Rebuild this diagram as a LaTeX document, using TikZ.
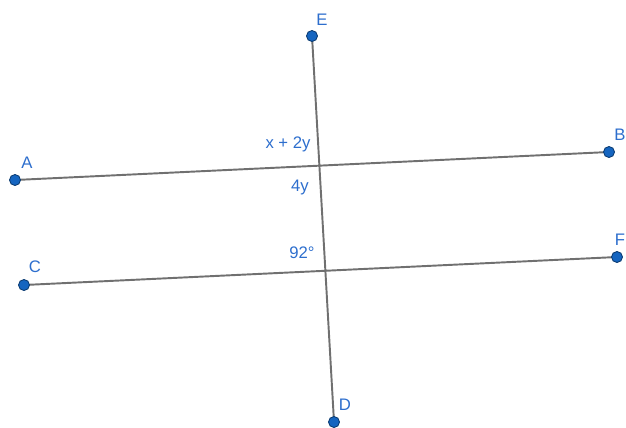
\documentclass[tikz,border=0pt]{standalone}
\usepackage{fontspec}
\setmainfont{Liberation Sans}
\definecolor{ptblue}{RGB}{21,101,192}
\definecolor{lblblue}{RGB}{45,110,205}
\definecolor{lngray}{RGB}{112,112,112}
\begin{document}
\begin{tikzpicture}[x=0.02cm,y=-0.02cm,
lbl/.style={text=lblblue,font=\fontsize{9.5}{11}\selectfont,inner sep=0pt},
seg/.style={lngray,line width=1.1pt}]
\useasboundingbox (0,0) rectangle (626,427);
\path
(15,180) coordinate (A)
(609,152) coordinate (B)
(24,285) coordinate (C)
(617,257) coordinate (F)
(312,36) coordinate (E)
(334,422) coordinate (D)
;
\draw[seg] (A)--(B) (C)--(F) (E)--(D);
\foreach \x/\dx/\dy in {A/12/-17, B/11/-17, C/11/-18, F/3/-17, E/10/-16, D/11/-17}
\filldraw[ptblue,draw=ptblue!60!black,line width=0.5pt] (\x) circle(5.5) +(\dx,\dy) node[lbl] {\x};

\node[lbl] (s1) at (288,144) {x + 2y};
\node[lbl] (s2) at (300,187) {4y};
\node[lbl] (s3) at (302,253) {92°};
\end{tikzpicture}
\end{document}
